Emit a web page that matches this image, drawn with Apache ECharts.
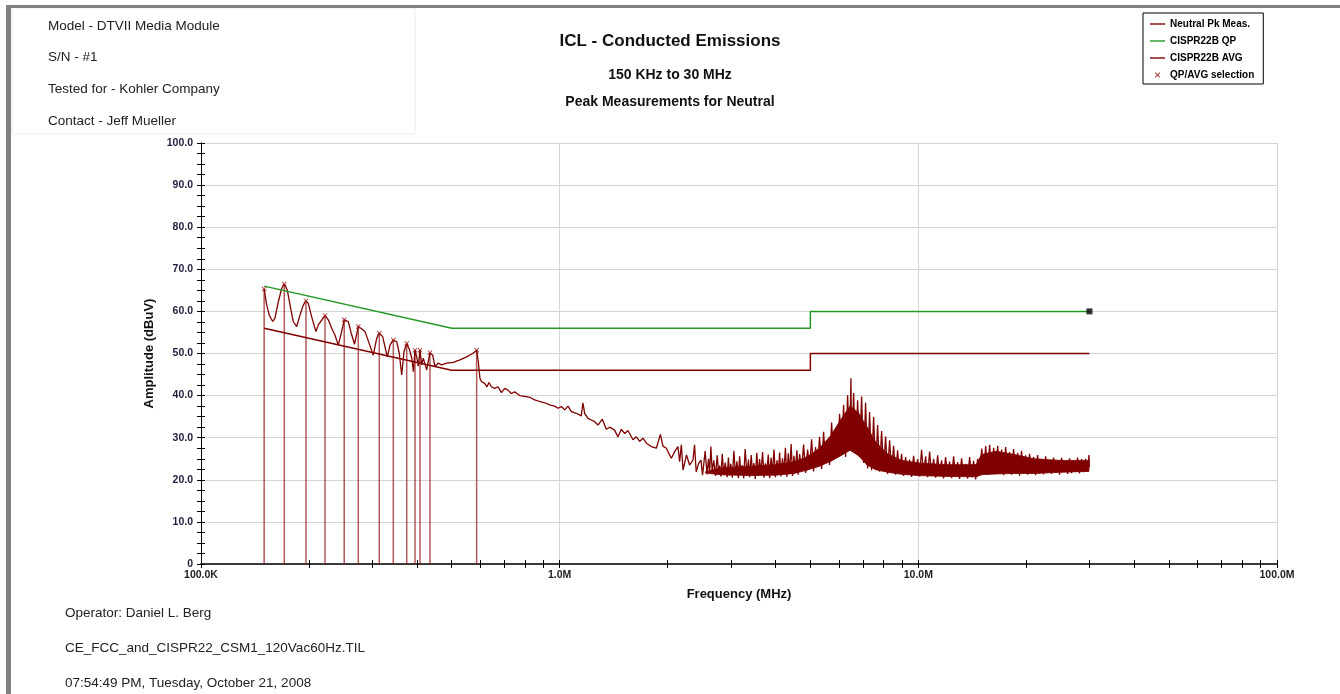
<!DOCTYPE html>
<html>
<head>
<meta charset="utf-8">
<script src="https://cdn.jsdelivr.net/npm/echarts@6/dist/echarts.min.js"></script>
<style>
  html, body { margin: 0; padding: 0; background: #fff; }
  #chart { width: 1340px; height: 694px; }
</style>
</head>
<body>
<div id="chart"></div>
<script>
var FONT = 'Liberation Sans, Arial, sans-serif';

// header / footer notes
var headerLines = ['Model - DTVII Media Module', 'S/N - #1', 'Tested for - Kohler Company', 'Contact - Jeff Mueller'];
var footerLines = ['Operator: Daniel L. Berg', 'CE_FCC_and_CISPR22_CSM1_120Vac60Hz.TIL', '07:54:49 PM, Tuesday, October 21, 2008'];

// frequency in MHz, amplitude in dBuV
var neutralPk = [
  [0.150,65.3],[0.1525,61.5],[0.1550,59.1],[0.1585,57.6],[0.1608,58.4],[0.1643,62.3],[0.1679,65.5],
  [0.1707,66.5],[0.1740,65.1],[0.1771,61.5],[0.1808,57.6],[0.1848,56.4],[0.1888,59.1],[0.1928,61.5],
  [0.1962,62.5],[0.1991,61.9],[0.2035,58.7],[0.2092,55.2],[0.2123,56.8],[0.2156,57.6],[0.2217,59.0],
  [0.2264,58.0],[0.2314,56.0],[0.2363,54.4],[0.2414,52.0],[0.2467,55.2],[0.2508,58.0],[0.2574,57.6],
  [0.2620,55.0],[0.2680,52.2],[0.2720,54.8],[0.2745,56.4],[0.2790,56.0],[0.2866,55.2],[0.2927,53.0],
  [0.3022,49.6],[0.3089,53.6],[0.3141,54.8],[0.3210,54.0],[0.3258,51.6],[0.3307,49.2],[0.3365,52.0],
  [0.3437,53.2],[0.3513,52.8],[0.3572,50.0],[0.3627,44.9],[0.3681,50.4],[0.3746,52.4],[0.3808,51.0],
  [0.3868,49.0],[0.3910,45.7],[0.3951,50.8],[0.3994,49.2],[0.4035,47.0],[0.4079,50.8],[0.4124,47.3],
  [0.4166,48.9],[0.4258,46.1],[0.4349,50.2],[0.4425,49.6],[0.4491,46.9],[0.4587,47.7],[0.4688,47.3],
  [0.4842,47.7],[0.5051,47.9],[0.5272,48.5],[0.5504,49.2],[0.5720,50.0],[0.5869,50.8],[0.5930,48.1],
  [0.5995,44.1],[0.6060,43.3],[0.6088,43.5],[0.6179,42.9],[0.6271,42.1],[0.6352,43.1],[0.6451,42.1],
  [0.6589,41.7],[0.6730,42.1],[0.6879,40.7],[0.7026,41.7],[0.7176,41.3],[0.7333,40.5],[0.7490,40.9],
  [0.7734,40.0],[0.7989,39.8],[0.8250,39.6],[0.8518,39.0],[0.8794,38.6],[0.9082,38.3],[0.9378,37.8],
  [0.9685,37.5],[0.9892,37.0],[1.011,37.4],[1.033,36.6],[1.055,37.5],[1.078,36.2],[1.113,35.8],
  [1.149,35.2],[1.161,38.3],[1.174,35.8],[1.199,34.6],[1.226,34.2],[1.252,33.8],[1.279,33.0],
  [1.315,34.4],[1.349,32.0],[1.378,32.5],[1.423,31.8],[1.454,30.2],[1.486,32.0],[1.518,31.0],
  [1.550,31.7],[1.601,29.5],[1.636,30.2],[1.671,29.1],[1.707,29.9],[1.745,28.7],[1.801,27.9],
  [1.860,27.5],[1.909,30.8],[1.941,28.0],[1.984,27.5],[2.004,26.7],[2.048,25.1],[2.092,26.7],
  [2.137,27.9],[2.160,24.3],[2.184,28.3],[2.208,22.3],[2.257,25.9],[2.303,23.5],[2.353,24.7],
  [2.377,28.3],[2.402,21.9],[2.441,23.9],[2.477,24.7],[2.502,21.1],[2.545,26.8],[2.575,21.3],
  [2.600,25.0],[2.619,21.6],[2.640,27.9],[2.662,22.0],[2.690,24.6],[2.720,20.9],[2.750,25.8],
  [2.775,21.4],[2.792,23.4],[2.815,20.8],[2.840,26.2],[2.865,21.5],[2.895,24.1],[2.930,20.6],
  [2.955,25.3],[2.977,21.0],[3.000,23.8],[3.030,20.5],[3.060,26.9],[3.090,21.2],[3.120,24.4],
  [3.150,20.4],[3.175,25.6],[3.200,21.3],[3.230,23.5],[3.260,20.3],[3.290,27.3],[3.330,21.0],
  [3.360,24.8],[3.385,20.6],[3.420,25.9],[3.450,21.5],[3.480,24.0],[3.510,20.2],[3.545,26.4],
  [3.580,20.9],[3.609,24.9],[3.640,21.6],[3.680,26.6],[3.710,20.5],[3.745,23.9],[3.780,21.2],
  [3.815,26.0],[3.849,20.4],[3.885,25.3],[3.920,21.8],[3.960,27.2],[3.995,20.6],[4.035,24.6],
  [4.070,21.4],[4.104,26.5],[4.140,20.8],[4.180,25.1],[4.220,21.9],[4.260,27.6],[4.300,20.7],
  [4.340,26.3],[4.376,21.5],[4.420,28.5],[4.460,20.9],[4.500,25.7],[4.540,22.0],[4.585,27.0],
  [4.625,21.2],[4.666,26.1],[4.727,22.3],[4.787,28.4],[4.850,21.6],[4.912,27.2],[4.975,22.8],
  [5.040,29.6],[5.105,22.0],[5.170,27.8],[5.237,23.4],[5.305,30.2],[5.374,22.6],[5.443,31.4],
  [5.513,24.0],[5.584,29.0],[5.657,23.5],[5.730,33.6],[5.804,24.8],[5.879,32.0],[5.956,25.6],
  [6.032,35.7],[6.110,26.2],[6.189,37.8],[6.269,25.4],[6.350,40.1],[6.432,27.5],[6.488,44.1],
  [6.515,27.0],[6.600,40.6],[6.686,26.3],[6.772,38.9],[6.858,25.4],[6.947,39.8],[7.037,24.0],
  [7.128,38.3],[7.220,22.7],[7.313,36.1],[7.408,22.3],[7.504,34.9],[7.601,22.8],[7.700,33.0],
  [7.798,21.9],[7.899,31.6],[8.001,22.5],[8.105,30.3],[8.208,21.4],[8.315,29.4],[8.423,21.8],
  [8.532,28.1],[8.642,21.2],[8.753,27.0],[8.866,21.6],[8.981,26.2],[9.097,20.9],[9.215,25.4],
  [9.334,21.3],[9.454,24.8],[9.577,20.7],[9.700,25.7],[9.826,21.2],[9.953,24.9],[10.08,20.8],
  [10.21,27.1],[10.34,21.4],[10.48,25.6],[10.61,20.6],[10.75,26.7],[10.89,21.0],[11.03,25.0],
  [11.17,20.5],[11.32,25.8],[11.46,20.9],[11.61,24.6],[11.76,20.3],[11.91,25.4],[12.07,21.1],
  [12.22,24.3],[12.38,20.4],[12.54,25.6],[12.70,20.8],[12.87,24.2],[13.03,20.2],[13.20,25.1],
  [13.37,21.0],[13.54,23.8],[13.72,20.3],[13.90,25.4],[14.08,20.6],[14.26,24.5],[14.45,20.1],
  [14.63,25.0],[14.82,21.0],[15.02,27.4],[15.21,21.6],[15.41,28.0],[15.61,21.2],[15.80,28.3],
  [16.01,21.8],[16.22,27.6],[16.43,21.3],[16.64,28.1],[16.85,21.7],[17.07,27.2],[17.29,21.1],
  [17.52,27.8],[17.74,21.6],[17.96,26.6],[18.20,21.2],[18.43,27.3],[18.67,21.8],[18.92,26.4],
  [19.15,21.0],[19.40,26.9],[19.65,21.5],[19.91,25.8],[20.17,21.2],[20.42,26.2],[20.69,21.6],
  [20.95,25.4],[21.23,21.1],[21.50,25.9],[21.78,21.5],[22.06,24.9],[22.35,21.3],[22.64,25.6],
  [22.93,21.8],[23.22,24.7],[23.52,21.4],[23.83,25.3],[24.14,21.7],[24.45,24.6],[24.76,21.2],
  [25.08,25.2],[25.41,21.8],[25.73,24.5],[26.07,21.4],[26.40,25.1],[26.74,21.6],[27.09,24.7],
  [27.44,21.9],[27.79,25.3],[28.15,21.5],[28.52,24.9],[28.89,21.8],[29.26,25.0],[29.63,22.0],
  [29.90,25.9],[30.0,23.0]
];

// dense core of the noisy part of the sweep: [MHz, low, high]
var noiseCore = [
  [2.55,21.6,21.9],[2.8,21.2,22.8],[3.4,21.0,23.2],[4.0,21.1,23.6],[4.5,21.5,24.2],[4.9,22.3,25.5],
  [5.3,23.2,27.5],[5.7,24.4,30.5],[6.1,25.8,34.5],[6.45,27.0,37.5],[6.8,25.8,36.0],[7.2,23.5,32.5],
  [7.6,22.4,29.0],[8.2,21.8,26.2],[9.0,21.3,24.6],[10.0,21.0,24.0],[12.0,20.8,23.6],[14.5,20.7,23.6],
  [15.0,21.2,26.0],[16.5,21.4,26.8],[18.5,21.5,26.0],[21.0,21.5,25.0],[25.0,21.8,24.6],[29.9,22.0,24.6]
];

var qpLimit = [[0.15,66],[0.5,56],[5,56],[5,60],[30,60]];
var avgLimit = [[0.15,56],[0.5,46],[5,46],[5,50],[30,50]];

// QP/AVG selected peaks
var selections = [
  [0.150,65.3],[0.1707,66.5],[0.1962,62.5],[0.2217,59.0],[0.2508,58.0],[0.2745,56.4],[0.3141,54.8],
  [0.3437,53.2],[0.3746,52.4],[0.3951,50.8],[0.4079,50.8],[0.4349,50.2],[0.5869,50.8]
];
var endMarker = [[30,60]];

var xMinorTicks = [0.2,0.3,0.4,0.5,0.6,0.7,0.8,0.9,2,3,4,5,6,7,8,9,20,30,40,50,60,70,80,90];
var xAllTicks = [0.1,1,10,100].concat(xMinorTicks);

// vertical lines from 0 up to each selected peak
var spikeLines = [];
selections.forEach(function (p) {
  spikeLines.push([p[0], 0], [p[0], p[1]], [p[0], '-']);
});

// band between consecutive core points, placed with the axes' own scales
function renderCore(params, api) {
  var i = params.dataIndex;
  if (i === 0) return;
  var a = noiseCore[i - 1], b = noiseCore[i];
  var pts = [
    api.coord([a[0], a[1]]), api.coord([b[0], b[1]]),
    api.coord([b[0], b[2]]), api.coord([a[0], a[2]])
  ];
  return {
    type: 'polygon',
    shape: { points: pts },
    style: { fill: '#800000', stroke: '#800000', lineWidth: 0.8 }
  };
}

var myChart = echarts.init(document.getElementById('chart'));

var textGraphics = [];
headerLines.forEach(function (t, i) {
  textGraphics.push({
    type: 'text', left: 48, top: 19 + i * 31.7,
    style: { text: t, font: '13.5px ' + FONT, fill: '#222' }
  });
});
footerLines.forEach(function (t, i) {
  textGraphics.push({
    type: 'text', left: 65, top: 606 + i * 35,
    style: { text: t, font: '13.5px ' + FONT, fill: '#222' }
  });
});

var xTickLabel = function (v) {
  return v < 1 ? (v * 1000).toFixed(1) + 'K' : v.toFixed(1) + 'M';
};

function hiddenX(values, inside) {
  return {
    type: 'log', logBase: 10, min: 0.1, max: 100, position: 'bottom', offset: 0,
    axisLine: { show: false },
    axisLabel: { show: false },
    splitLine: { show: false },
    axisTick: { show: true, inside: inside, length: 4, customValues: values, lineStyle: { color: '#000', width: 1 } }
  };
}

var lineIcon = 'path://M0,0M15,12M0,5.3L15,5.3L15,6.7L0,6.7Z';

var option = {
  backgroundColor: '#fff',
  animation: false,
  title: [
    { text: 'ICL - Conducted Emissions', left: 'center', top: 28,
      textStyle: { fontFamily: FONT, fontSize: 17, fontWeight: 'bold', color: '#111' } },
    { text: '150 KHz to 30 MHz', left: 'center', top: 63,
      textStyle: { fontFamily: FONT, fontSize: 14, fontWeight: 'bold', color: '#111' } },
    { text: 'Peak Measurements for Neutral', left: 'center', top: 90,
      textStyle: { fontFamily: FONT, fontSize: 14, fontWeight: 'bold', color: '#111' } }
  ],
  legend: {
    orient: 'vertical', left: 1143, top: 13,
    padding: [5, 9, 3, 7], itemGap: 5, itemWidth: 15, itemHeight: 12,
    borderColor: '#000', borderWidth: 1, backgroundColor: '#fff',
    textStyle: { fontFamily: FONT, fontSize: 10, fontWeight: 'bold', color: '#000', lineHeight: 12 },
    data: [
      { name: 'Neutral Pk Meas.', icon: lineIcon },
      { name: 'CISPR22B QP', icon: lineIcon },
      { name: 'CISPR22B AVG', icon: lineIcon },
      { name: 'QP/AVG selection',
        icon: 'path://M0,0M12,12M4,3.2L6,5.2L8,3.2L8.8,4L6.8,6L8.8,8L8,8.8L6,6.8L4,8.8L3.2,8L5.2,6L3.2,4Z' }
    ]
  },
  grid: { left: 201, right: 63, top: 143, bottom: 130, outerBoundsMode: 'none' },
  xAxis: [
    {
      type: 'log', logBase: 10, min: 0.1, max: 100, position: 'bottom',
      name: 'Frequency (MHz)', nameLocation: 'middle', nameGap: 24,
      nameTextStyle: { fontFamily: FONT, fontSize: 13, fontWeight: 'bold', color: '#111' },
      axisLine: { show: true, lineStyle: { color: '#000', width: 1.5 } },
      axisTick: { show: false },
      axisLabel: { formatter: xTickLabel, margin: 6,
        fontFamily: 'Liberation Sans Narrow, ' + FONT, fontSize: 10.5, fontWeight: 'bold', color: '#222' },
      splitLine: { show: true, lineStyle: { color: '#d4d4d4', width: 1 } }
    },
    hiddenX(xAllTicks, false),
    hiddenX(xAllTicks, true)
  ],
  yAxis: [
    {
      type: 'value', min: 0, max: 100, interval: 10, position: 'left',
      name: 'Amplitude (dBuV)', nameLocation: 'middle', nameGap: 45, nameRotate: 90,
      nameTextStyle: { fontFamily: FONT, fontSize: 13, fontWeight: 'bold', color: '#111' },
      axisLine: { show: true, lineStyle: { color: '#000', width: 1 } },
      axisTick: { show: true, length: 4, lineStyle: { color: '#000' } },
      minorTick: { show: true, splitNumber: 4, length: 4, lineStyle: { color: '#000' } },
      axisLabel: { formatter: function (v) { return v === 0 ? '0' : v.toFixed(1); }, margin: 8,
        fontFamily: FONT, fontSize: 10.5, fontWeight: 'bold', color: '#1e1e3c' },
      splitLine: { show: true, lineStyle: { color: '#d4d4d4', width: 1 } }
    },
    {
      type: 'value', min: 0, max: 100, interval: 10, position: 'left', offset: 0,
      axisLine: { show: false },
      axisLabel: { show: false },
      splitLine: { show: false },
      axisTick: { show: true, inside: true, length: 4, lineStyle: { color: '#000' } },
      minorTick: { show: true, splitNumber: 4, length: 4, lineStyle: { color: '#000' } }
    }
  ],
  graphic: [
    { type: 'rect', shape: { x: 12, y: 8, width: 403, height: 126 }, silent: true,
      style: { fill: 'none', stroke: '#ececec', lineWidth: 1 } },
    { type: 'rect', shape: { x: 6, y: 5, width: 1334, height: 3 }, silent: true, style: { fill: '#808080' } },
    { type: 'rect', shape: { x: 6, y: 5, width: 5, height: 689 }, silent: true, style: { fill: '#808080' } }
  ].concat(textGraphics),
  series: [
    {
      name: 'spikes', type: 'line', data: spikeLines, symbol: 'none', connectNulls: false,
      lineStyle: { color: 'rgba(150,25,25,0.72)', width: 1.5 }, z: 2
    },
    {
      name: 'core', type: 'custom', data: noiseCore, renderItem: renderCore,
      encode: { x: 0, y: [1, 2] }, silent: true, z: 2
    },
    {
      name: 'Neutral Pk Meas.', type: 'line', data: neutralPk, symbol: 'none', color: '#800000',
      lineStyle: { color: '#800000', width: 1.3 }, z: 3
    },
    {
      name: 'CISPR22B QP', type: 'line', data: qpLimit, symbol: 'none', color: '#229922',
      lineStyle: { color: '#229922', width: 1.5 }, z: 4
    },
    {
      name: 'CISPR22B AVG', type: 'line', data: avgLimit, symbol: 'none', color: '#800000',
      lineStyle: { color: '#800000', width: 1.5 }, z: 4
    },
    {
      name: 'QP/AVG selection', type: 'scatter', data: selections, color: '#9b1c1c',
      symbol: 'path://M4,3.2L6,5.2L8,3.2L8.8,4L6.8,6L8.8,8L8,8.8L6,6.8L4,8.8L3.2,8L5.2,6L3.2,4Z',
      symbolSize: 5, itemStyle: { color: '#9b1c1c' }, z: 5
    },
    {
      name: 'end', type: 'scatter', data: endMarker, symbol: 'rect', symbolSize: 6,
      itemStyle: { color: '#000' }, z: 5
    }
  ]
};

myChart.setOption(option);
</script>
</body>
</html>
